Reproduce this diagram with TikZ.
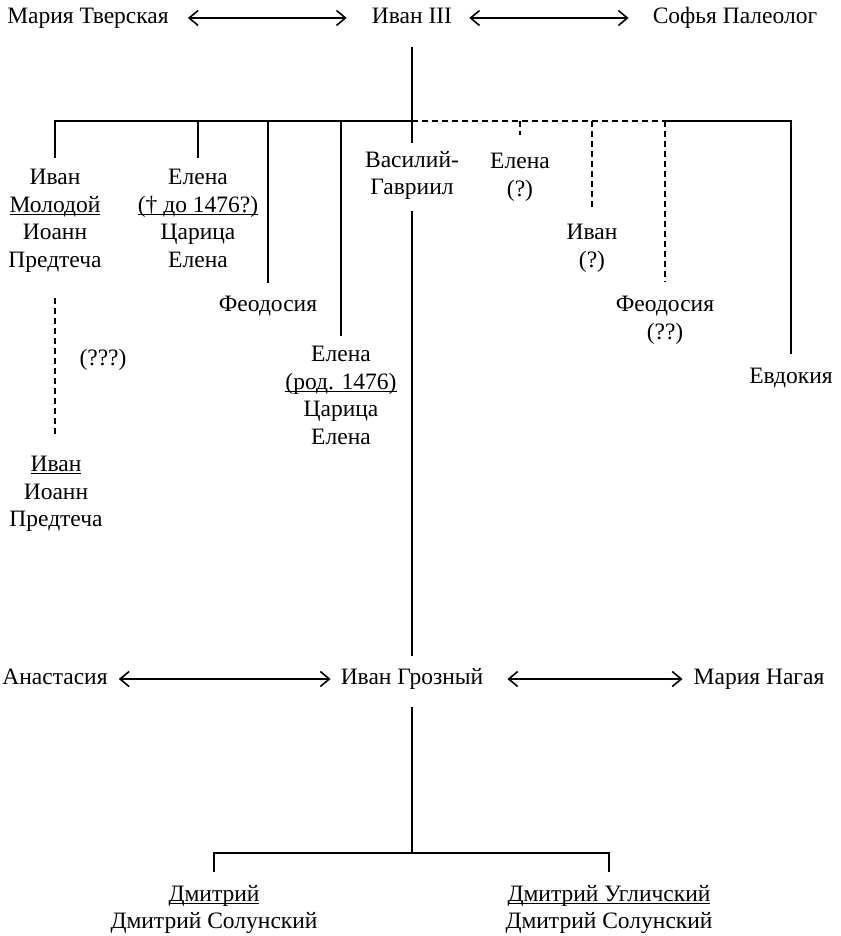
\documentclass[tikz,border=0pt]{standalone}
\usepackage{fontspec}
\setmainfont{Liberation Serif}
\usetikzlibrary{arrows.meta}
% подчёркивание у самой строки
\newcommand\undl[1]{\setbox0\hbox{#1}\rlap{\rule[-2.8pt]{\wd0}{1.1pt}}\box0}

\begin{document}
\begin{tikzpicture}[
      x=1pt, y=-1pt,
      >={Straight Barb[length=9pt,width=15pt]},
      every node/.style={font=\fontsize{23.5}{27.5}\selectfont, inner sep=0pt},
      person/.style={anchor=north, align=center},
      single/.style={text height=16pt, text depth=5pt},
      line/.style={line width=1.8pt, line cap=rect},
      dline/.style={line width=1.6pt, dash pattern=on 6pt off 4pt},
      marr/.style={<->, line width=1.6pt}
  ]
      \useasboundingbox (0,0) rectangle (840,936);

      % Иван III и жёны
      \node[single] (mtver) at (88,18) {Мария Тверская};
      \node[single] (ivan3) at (412,18) {Иван III};
      \node[single] (sofia) at (735,18) {Софья Палеолог};
      \draw[marr, shorten <=19pt, shorten >=25pt] (mtver.east) -- (ivan3.west);
      \draw[marr, shorten <=17pt, shorten >=24pt] (ivan3.east) -- (sofia.west);

      \coordinate (bar) at (412,121);
      \draw[line, shorten <=19.5pt] (ivan3.south) -- (bar);

      % дети
      \node[person] (ivmol) at (55,169) {Иван\\\undl{Молодой}\\Иоанн\\Предтеча};
      \node[person] (elena1) at (198,169) {Елена\\\undl{(† до 1476?)}\\Царица\\Елена};
      \node[person] (feo1) at (268,296) {Феодосия};
      \node[person] (elena2) at (341,346) {Елена\\\undl{(род. 1476)}\\Царица\\Елена};
      \node[person] (vas) at (412,151) {Василий-\\Гавриил};
      \node[person] (elena3) at (520,153) {Елена\\(?)};
      \node[person] (ivan4) at (592,224) {Иван\\(?)};
      \node[person] (feo2) at (665,296) {Феодосия\\(??)};
      \node[person] (evd) at (791,368) {Евдокия};

      % общая черта
      \draw[line] (bar -| ivmol) -- (bar);
      \draw[dline] (bar) -- (bar -| feo2);
      \draw[line] (bar -| feo2) -- (bar -| evd);

      \draw[line, shorten >=12pt] (bar -| ivmol) -- (ivmol.north);
      \draw[line, shorten >=12pt] (bar -| elena1) -- (elena1.north);
      \draw[line, shorten >=14pt] (bar -| feo1) -- (feo1.north);
      \draw[line, shorten >=11pt] (bar -| elena2) -- (elena2.north);
      \draw[line, shorten >=9pt] (bar) -- (vas.north);
      \draw[dline, shorten >=18pt] (bar -| elena3) -- (elena3.north);
      \draw[dline, shorten >=16pt] (bar -| ivan4) -- (ivan4.north);
      \draw[dline, shorten >=14pt] (bar -| feo2) -- (feo2.north);
      \draw[line, shorten >=15pt] (bar -| evd) -- (evd.north);

      % сын Ивана Молодого
      \node[person] (ivpred) at (56,456) {\undl{Иван}\\Иоанн\\Предтеча};
      \node (qmark) at (103,360) {(???)};
      \draw[dline, shorten <=26pt, shorten >=18pt] (ivmol.south) -- (ivmol.south |- ivpred.north);

      % Иван Грозный и жёны
      \node[single] (anast) at (55,679) {Анастасия};
      \node[single] (ivgroz) at (412,679) {Иван Грозный};
      \node[single] (mnag) at (759,679) {Мария Нагая};
      \draw[marr, shorten <=11pt, shorten >=10pt] (anast.east) -- (ivgroz.west);
      \draw[marr, shorten <=24pt, shorten >=11pt] (ivgroz.east) -- (mnag.west);
      \draw[line, shorten <=11.5pt, shorten >=13.5pt] (vas.south) -- (ivgroz.north);

      % сыновья
      \coordinate (bar2) at (412,853);
      \draw[line, shorten <=18.5pt] (ivgroz.south) -- (bar2);
      \node[person] (dmitr1) at (214,885) {\undl{Дмитрий}\\Дмитрий Солунский};
      \node[person] (dmitr2) at (609,885) {\undl{Дмитрий Угличский}\\Дмитрий Солунский};
      \draw[line] (bar2 -| dmitr1) -- (bar2 -| dmitr2);
      \draw[line, shorten >=14pt] (bar2 -| dmitr1) -- (dmitr1.north);
      \draw[line, shorten >=14pt] (bar2 -| dmitr2) -- (dmitr2.north);

  \end{tikzpicture}
\end{document}
